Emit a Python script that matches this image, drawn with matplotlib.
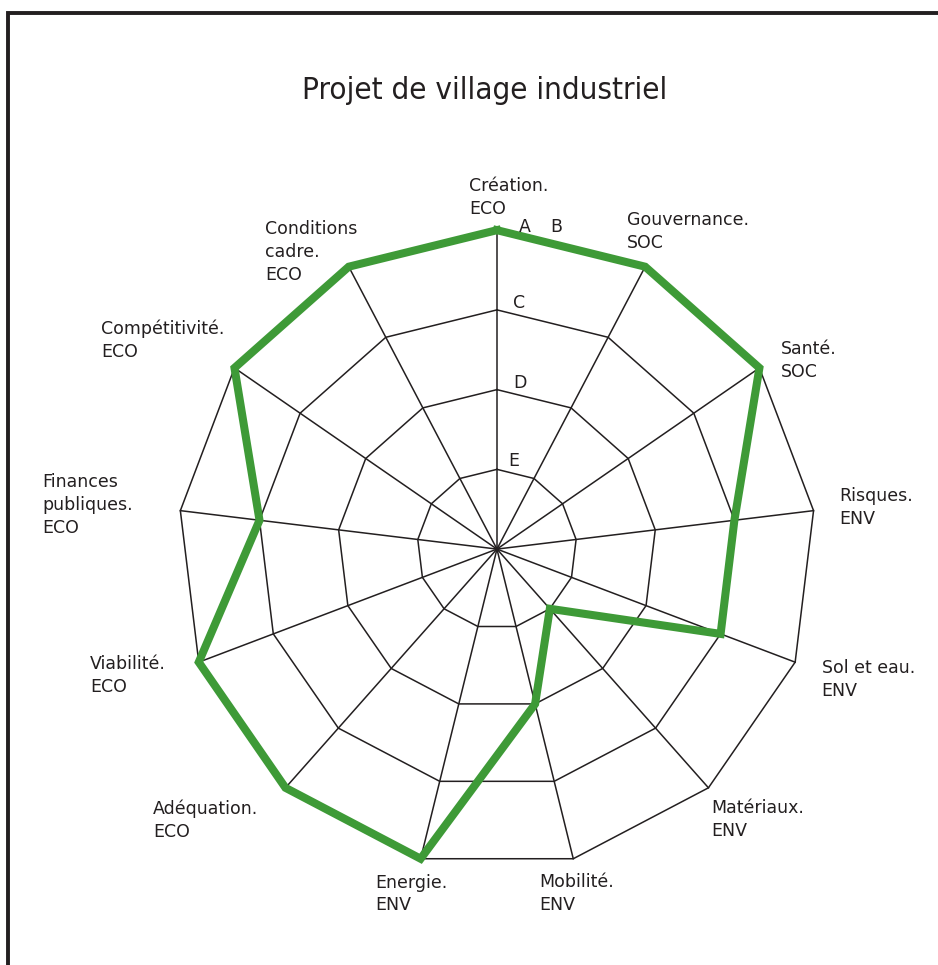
import numpy as np
import matplotlib.pyplot as plt
from matplotlib.lines import Line2D

plt.rcParams['font.family'] = ['DejaVu Sans']

# données
title = "Projet de village industriel"
categories = ["Création.\nECO", "Gouvernance.\nSOC", "Santé.\nSOC", "Risques.\nENV",
              "Sol et eau.\nENV", "Matériaux.\nENV", "Mobilité.\nENV", "Energie.\nENV",
              "Adéquation.\nECO", "Viabilité.\nECO", "Finances\npubliques.\nECO",
              "Compétitivité.\nECO", "Conditions\ncadre.\nECO"]
values = [4, 4, 4, 3, 3, 1, 2, 4, 4, 4, 3, 4, 4]
levels = [1, 2, 3, 4]
level_names = ["E", "D", "C", "A", "B"]
level_pos = [1, 2, 3, 4, 4]

ink = '#231f20'
green = '#3e9a37'

# mise en page des étiquettes (rayon, décalage angulaire en degrés)
label_r = [4.16, 4.07, 4.14, 4.33, 4.30, 4.13, 4.19, 4.21, 4.34, 4.36, 4.60, 4.15, 3.76]
label_dt = [2, -4, 4, 0, -2, 1, 0, 1, 2, 3, 0, 0, 0]
level_off = [(11, -1), (16, -2), (16, -2), (22, -6), (53, -6)]

n = len(categories)
theta = np.arange(n) * 2 * np.pi / n
tc = np.append(theta, theta[0])

fig = plt.figure(figsize=(9.38, 9.65), dpi=100)
ax = fig.add_axes([0.1898, 0.1005, 0.680, 0.661], projection='polar')
ax.set_theta_zero_location('N')
ax.set_theta_direction(-1)
ax.set_ylim(0, 4)
ax.axis('off')

# toile
for r in levels:
    ax.plot(tc, [r] * (n + 1), color=ink, lw=1.1, clip_on=False, zorder=1)
for t in theta:
    ax.plot([t, t], [0, levels[-1]], color=ink, lw=1.1, clip_on=False, zorder=1)

# profil du projet
ax.plot(tc, values + values[:1], color=green, lw=5.8, solid_joinstyle='miter',
        clip_on=False, zorder=3)

# étiquettes des axes
for i, (t, lab) in enumerate(zip(theta, categories)):
    s, c = np.sin(t), np.cos(t)
    ha = 'left' if s > 0.3 else ('right' if s < -0.3 else 'center')
    va = 'bottom' if c > 0.3 else ('top' if c < -0.3 else 'center')
    ax.text(t + np.deg2rad(label_dt[i]), label_r[i], lab, ha=ha, va=va,
            multialignment='left', fontsize=12.5, color=ink, linespacing=1.35,
            clip_on=False)

# niveaux
for name, r, off in zip(level_names, level_pos, level_off):
    ax.annotate(name, xy=(0, r), xytext=off, textcoords='offset pixels',
                ha='left', va='bottom', fontsize=12.5, color=ink, zorder=4)

fig.text(0.517, 1 - 99 / 965, title, ha='center', va='baseline',
         fontsize=22.5, fontstretch='condensed', color=ink)

# cadre
fig.add_artist(Line2D([8 / 938, 8 / 938, 1.01], [-0.01, 1 - 13 / 965, 1 - 13 / 965],
                      transform=fig.transFigure, color=ink, lw=2.8,
                      solid_joinstyle='miter'))

fig.savefig('out.png', dpi=100)
